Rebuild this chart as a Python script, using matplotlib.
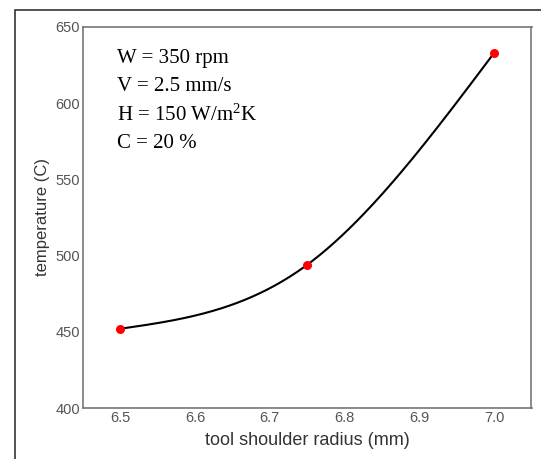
import numpy as np
import matplotlib
matplotlib.use("Agg")
import matplotlib.pyplot as plt
from matplotlib.patches import Rectangle

plt.rcParams["mathtext.fontset"] = "custom"
plt.rcParams["mathtext.rm"] = "Liberation Serif"
plt.rcParams["mathtext.it"] = "Liberation Serif:italic"

# Measured temperatures at three tool shoulder radii
radius_mm = [6.5, 6.75, 7.0]
temperature_c = [452, 494, 633]

x_ticks = [6.5, 6.6, 6.7, 6.8, 6.9, 7.0]
y_ticks = [400, 450, 500, 550, 600, 650]

conditions = ["W = 350 rpm", "V = 2.5 mm/s", r"H = 150 W/m$\mathrm{^2}$K", "C = 20 %"]


def natural_spline(xs, ys, n=200):
    """Smooth natural cubic spline through the given points."""
    xs = np.asarray(xs, float)
    ys = np.asarray(ys, float)
    k = len(xs)
    h = np.diff(xs)
    A = np.zeros((k, k))
    r = np.zeros(k)
    A[0, 0] = A[-1, -1] = 1.0
    for i in range(1, k - 1):
        A[i, i - 1] = h[i - 1]
        A[i, i] = 2 * (h[i - 1] + h[i])
        A[i, i + 1] = h[i]
        r[i] = 6 * ((ys[i + 1] - ys[i]) / h[i] - (ys[i] - ys[i - 1]) / h[i - 1])
    M = np.linalg.solve(A, r)
    xx = np.linspace(xs[0], xs[-1], n)
    yy = np.empty_like(xx)
    for j, x in enumerate(xx):
        i = min(np.searchsorted(xs, x, side="right") - 1, k - 2)
        a = xs[i + 1] - x
        b = x - xs[i]
        yy[j] = (M[i] * a ** 3 + M[i + 1] * b ** 3) / (6 * h[i]) \
            + (ys[i] / h[i] - M[i] * h[i] / 6) * a \
            + (ys[i + 1] / h[i] - M[i + 1] * h[i] / 6) * b
    return xx, yy


fig = plt.figure(figsize=(5.41, 4.59), dpi=100)
ax = fig.add_axes([83 / 541, 51 / 459, 448.5 / 541, 381 / 459])

cx, cy = natural_spline(radius_mm, temperature_c)
ax.plot(cx, cy, color="black", lw=1.5, zorder=2)
ax.plot(radius_mm, temperature_c, "o", color="#ff0000", ms=6.5, mec="none", zorder=3)

ax.set_xlim(6.45, 7.05)
ax.set_ylim(400, 650)
ax.set_xticks(x_ticks)
ax.set_xticklabels([f"{v:.1f}" for v in x_ticks])
ax.set_yticks(y_ticks)
ax.tick_params(length=0, pad=2, labelsize=10.5, labelcolor="#555555")
for lab in ax.get_xticklabels() + ax.get_yticklabels():
    lab.set_family("Liberation Sans")

for side in ["left", "bottom", "top", "right"]:
    ax.spines[side].set_color("#777777")
    ax.spines[side].set_linewidth(1.2)

ax.set_xlabel("tool shoulder radius (mm)", family="Liberation Sans",
              fontsize=13, color="#333333", labelpad=5)
ax.set_ylabel("temperature (C)", family="Liberation Sans",
              fontsize=12, color="#333333", labelpad=4)

for i, txt in enumerate(conditions):
    ax.text(117 / 541, 1 - (58 + 28.5 * i) / 459, txt,
            transform=fig.transFigure, family="Liberation Serif",
            fontsize=15, color="black", va="center", ha="left")

# outer frame around the figure
fig.patches.append(Rectangle((15 / 541, -0.01), 1.0, 1 - 10 / 459 + 0.01,
                             transform=fig.transFigure, fill=False,
                             edgecolor="#333333", lw=1.2, clip_on=False))

fig.savefig("out.png", dpi=100)
